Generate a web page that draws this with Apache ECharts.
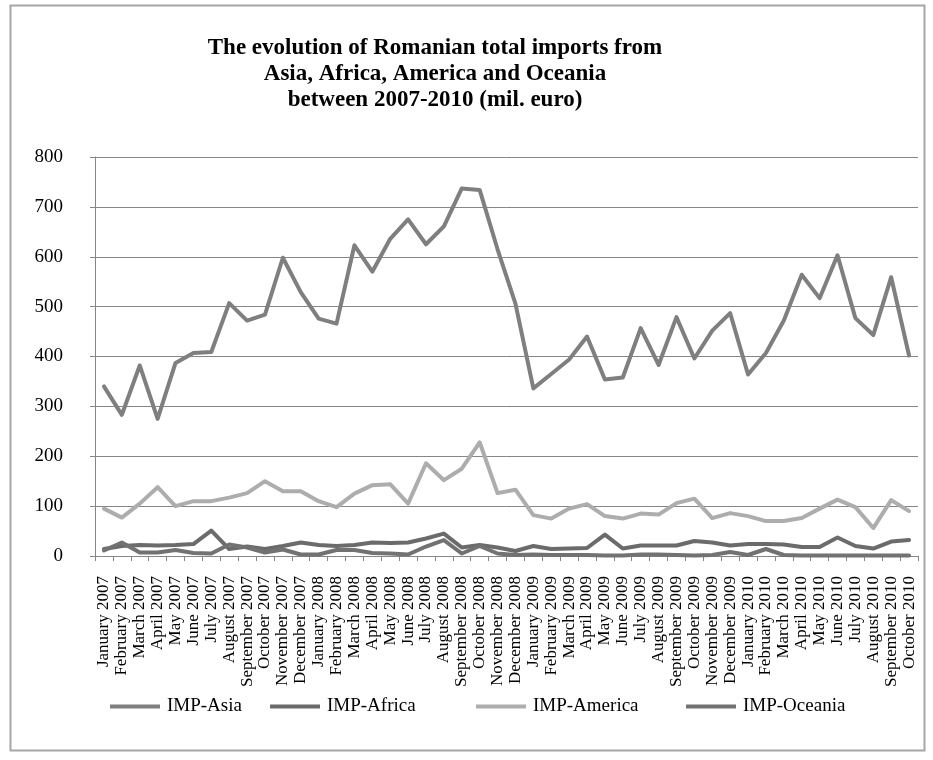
<!DOCTYPE html>
<html>
<head>
<meta charset="utf-8">
<script src="https://cdn.jsdelivr.net/npm/echarts@6/dist/echarts.min.js"></script>
<style>
  html, body { margin: 0; padding: 0; background: #fff; }
  #chart { width: 933px; height: 760px; }
</style>
</head>
<body>
<div id="chart"></div>
<script>
const months = [
  'January 2007', 'February 2007', 'March 2007', 'April 2007', 'May 2007', 'June 2007',
  'July 2007', 'August 2007', 'September 2007', 'October 2007', 'November 2007', 'December 2007',
  'January 2008', 'February 2008', 'March 2008', 'April 2008', 'May 2008', 'June 2008',
  'July 2008', 'August 2008', 'September 2008', 'October 2008', 'November 2008', 'December 2008',
  'January 2009', 'February 2009', 'March 2009', 'April 2009', 'May 2009', 'June 2009',
  'July 2009', 'August 2009', 'September 2009', 'October 2009', 'November 2009', 'December 2009',
  'January 2010', 'February 2010', 'March 2010', 'April 2010', 'May 2010', 'June 2010',
  'July 2010', 'August 2010', 'September 2010', 'October 2010'
]

const asia = [
  340, 283, 382, 275, 387, 407, 409, 507, 472, 484, 598, 529,
  476, 466, 623, 570, 636, 675, 625, 661, 737, 734, 615, 506,
  336, 365, 394, 440, 354, 358, 457, 383, 479, 396, 452, 487,
  364, 407, 472, 564, 517, 603, 477, 443, 559, 402
]

const africa = [
  14, 20, 22, 21, 22, 24, 51, 14, 19, 14, 20, 27,
  22, 20, 22, 27, 26, 27, 35, 45, 17, 22, 17, 10,
  20, 14, 15, 16, 43, 15, 21, 21, 21, 30, 27, 21,
  24, 24, 23, 18, 18, 37, 20, 15, 29, 32
]

const america = [
  95, 77, 105, 138, 100, 110, 110, 117, 126, 150, 130, 130,
  110, 98, 125, 142, 144, 105, 186, 152, 175, 228, 126, 133,
  82, 75, 95, 104, 80, 75, 85, 83, 106, 115, 76, 86,
  80, 70, 70, 76, 95, 113, 98, 56, 112, 90
]

const oceania = [
  11, 27, 7, 7, 12, 6, 5, 23, 17, 7, 13, 3,
  3, 12, 12, 6, 5, 3, 19, 32, 5, 20, 5, 2,
  3, 2, 2, 2, 1, 1, 3, 3, 2, 1, 2, 8,
  2, 14, 2, 1, 1, 1, 1, 1, 1, 1
]

const yTicks = [0, 100, 200, 300, 400, 500, 600, 700, 800]

const serif = 'Liberation Serif'

const seriesList = [
  { name: 'IMP-Asia', data: asia, color: '#7f7f7f' },
  { name: 'IMP-Africa', data: africa, color: '#6b6b6b' },
  { name: 'IMP-America', data: america, color: '#adadad' },
  { name: 'IMP-Oceania', data: oceania, color: '#727272' }
]

// legend slots, one per series, like the excel layout
const legendLeft = [105, 265, 471, 681]

const chart = echarts.init(document.getElementById('chart'))

chart.setOption({
  animation: false,
  backgroundColor: '#fff',
  title: {
    text: 'The evolution of Romanian total imports from\nAsia, Africa, America and Oceania\nbetween 2007-2010 (mil. euro)',
    // title sits a little left of the chart centre in the original
    left: 430,
    top: 30,
    textAlign: 'center',
    textStyle: {
      fontFamily: serif,
      fontWeight: 'bold',
      fontSize: 23,
      lineHeight: 26,
      color: '#000'
    }
  },
  legend: seriesList.map((s, i) => ({
    data: [s.name],
    left: legendLeft[i],
    top: 692,
    icon: 'rect',
    itemWidth: 50,
    itemHeight: 4,
    itemGap: 0,
    textStyle: { fontFamily: serif, fontSize: 19, color: '#000', padding: [0, 0, 0, 2] }
  })),
  grid: {
    left: 95,
    right: 15,
    top: 157,
    bottom: 204,
    containLabel: false
  },
  xAxis: {
    type: 'category',
    data: months,
    boundaryGap: true,
    axisLine: { lineStyle: { color: '#868686', width: 1 } },
    axisTick: { show: true, length: 5, lineStyle: { color: '#868686' } },
    axisLabel: {
      rotate: 90,
      interval: 0,
      margin: 20,
      fontFamily: serif,
      fontSize: 17,
      color: '#000'
    }
  },
  yAxis: {
    type: 'value',
    min: 0,
    max: 800,
    interval: 100,
    axisLine: { show: true, lineStyle: { color: '#868686', width: 1 } },
    axisTick: { show: true, length: 5, lineStyle: { color: '#868686' } },
    axisLabel: {
      margin: 32,
      fontFamily: serif,
      fontSize: 19,
      color: '#000',
      formatter: v => (yTicks.includes(v) ? String(v) : '')
    },
    splitLine: { lineStyle: { color: '#868686', width: 1 } }
  },
  series: seriesList.map(s => ({
    name: s.name,
    type: 'line',
    data: s.data,
    symbol: 'none',
    showSymbol: false,
    color: s.color,
    lineStyle: { width: 4, color: s.color, join: 'round', cap: 'round' }
  })),
  graphic: [{
    type: 'rect',
    shape: { x: 10.5, y: 5.5, width: 914, height: 745 },
    style: { fill: 'none', stroke: '#a6a6a6', lineWidth: 2 },
    silent: true,
    z: -1
  }]
})
</script>
</body>
</html>
